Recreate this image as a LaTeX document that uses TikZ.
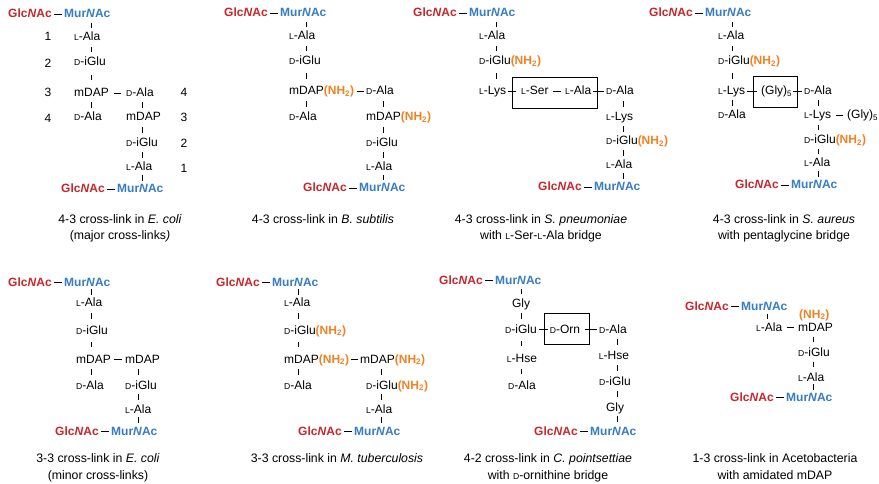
\documentclass[tikz,border=0pt]{standalone}
\usepackage{fontspec}
\setmainfont{Liberation Sans}
\usetikzlibrary{calc}
\definecolor{glcred}{RGB}{200,40,45}
\definecolor{murblue}{RGB}{55,125,195}
\definecolor{nhorange}{RGB}{240,130,35}
\newcommand\SC[1]{{\fontsize{8.6}{10}\selectfont #1}}
\newcommand\NH{{\color{nhorange}\bfseries(NH\textsubscript{2})}}
\newcommand\Glc{\textcolor{glcred}{\bfseries Glc\textit{N}Ac}}
\newcommand\Mur{\textcolor{murblue}{\bfseries Mur\textit{N}Ac}}
\newcommand\tk[3]{\draw[tickline] ($(#1.base -| #3)!0.5!(#2.base -| #3)$) ++(0,-6.6) -- ++(0,5.2);}
\newcommand\hd[2]{\draw[bond] ($(#1.base east)!0.5!(#2.base west)$) ++(-3.6,-3.4) -- ++(7.2,0);}
\newcommand\cin[2]{\draw[bond] ($(#1.base east)+(1,-3.6)$) -- ($(#1.base east -| #2.west)+(4.5,-3.6)$);}
\newcommand\cout[2]{\draw[bond] ($(#2.base west -| #1.east)+(-4.5,-3.6)$) -- ($(#2.base west)+(-1,-3.6)$);}
\begin{document}
\begin{tikzpicture}[x=1pt,y=-1pt,font=\fontsize{12}{14}\selectfont,
  res/.style={anchor=base west,inner sep=1pt},
  resc/.style={anchor=base,inner sep=1pt},
  num/.style={anchor=base,inner sep=1pt},
  captext/.style={anchor=base,inner sep=0pt,font=\fontsize{12.3}{14}\selectfont},
  tickline/.style={line width=0.8pt},
  bond/.style={line width=0.9pt},
  bridge/.style={draw,line width=0.9pt,minimum height=31pt,inner sep=0pt}]
\useasboundingbox (0,0) rectangle (879,484);
\fill[white] (0,0) rectangle (879,484);

% ---------------- Panel 1 ----------------
\coordinate (c1l) at (91,0); \coordinate (c1r) at (142,0);
\node[res] (glc1) at (7,18) {\Glc};
\node[res] (mur1) at (63,18) {\Mur};
\node[res] (ala1) at (73,41) {\SC{L}-Ala};
\node[res] (glu1) at (73,66) {\SC{D}-iGlu};
\node[res] (dap1) at (73,97) {mDAP};
\node[res] (dal1) at (73,121) {\SC{D}-Ala};
\node[res] (dalr1) at (125,97) {\SC{D}-Ala};
\node[res] (dapr1) at (125,121) {mDAP};
\node[res] (glur1) at (125,147) {\SC{D}-iGlu};
\node[res] (alar1) at (125,171) {\SC{L}-Ala};
\node[res] (glcb1) at (60,193) {\Glc};
\node[res] (murb1) at (116,193) {\Mur};
\node[num] (n1a) at (48,41) {1};
\node[num] (n1b) at (48,68) {2};
\node[num] (n1c) at (48,97) {3};
\node[num] (n1d) at (48,123) {4};
\node[num] (n1e) at (184,97) {4};
\node[num] (n1f) at (184,122) {3};
\node[num] (n1g) at (184,148) {2};
\node[num] (n1h) at (184,173) {1};
\hd{glc1}{mur1} \hd{glcb1}{murb1} \hd{dap1}{dalr1}
\tk{mur1}{ala1}{c1l} \tk{ala1}{glu1}{c1l} \tk{glu1}{dap1}{c1l} \tk{dap1}{dal1}{c1l}
\tk{dalr1}{dapr1}{c1r} \tk{dapr1}{glur1}{c1r} \tk{glur1}{alar1}{c1r} \tk{alar1}{murb1}{c1r}

% ---------------- Panel 2 ----------------
\coordinate (c2l) at (306,0); \coordinate (c2r) at (383,0);
\node[res] (glc2) at (223,17) {\Glc};
\node[res] (mur2) at (279,17) {\Mur};
\node[res] (ala2) at (288,40) {\SC{L}-Ala};
\node[res] (glu2) at (288,65) {\SC{D}-iGlu};
\node[res] (dap2) at (288,95) {mDAP\NH};
\node[res] (dal2) at (288,121) {\SC{D}-Ala};
\node[res] (dalr2) at (365,95) {\SC{D}-Ala};
\node[res] (dapr2) at (365,121) {mDAP\NH};
\node[res] (glur2) at (365,147) {\SC{D}-iGlu};
\node[res] (alar2) at (365,171) {\SC{L}-Ala};
\node[res] (glcb2) at (302,192) {\Glc};
\node[res] (murb2) at (358,192) {\Mur};
\hd{glc2}{mur2} \hd{glcb2}{murb2} \hd{dap2}{dalr2}
\tk{mur2}{ala2}{c2l} \tk{ala2}{glu2}{c2l} \tk{glu2}{dap2}{c2l} \tk{dap2}{dal2}{c2l}
\tk{dalr2}{dapr2}{c2r} \tk{dapr2}{glur2}{c2r} \tk{glur2}{alar2}{c2r} \tk{alar2}{murb2}{c2r}

% ---------------- Panel 3 ----------------
\coordinate (c3l) at (496,0); \coordinate (c3r) at (623,0);
\node[res] (glc3) at (412,17) {\Glc};
\node[res] (mur3) at (468,17) {\Mur};
\node[res] (ala3) at (478,40) {\SC{L}-Ala};
\node[res] (glu3) at (478,65) {\SC{D}-iGlu\NH};
\node[res] (lys3) at (478,95) {\SC{L}-Lys};
\node[bridge,minimum width=85pt] (bx3) at (554.5,92.5) {};
\node[res] (ser3) at (520,95) {\SC{L}-Ser};
\node[res] (alab3) at (564,95) {\SC{L}-Ala};
\node[res] (dalr3) at (605,95) {\SC{D}-Ala};
\node[res] (lysr3) at (605,121) {\SC{L}-Lys};
\node[res] (glur3) at (605,145) {\SC{D}-iGlu\NH};
\node[res] (alar3) at (605,169) {\SC{L}-Ala};
\node[res] (glcb3) at (537,191) {\Glc};
\node[res] (murb3) at (593,191) {\Mur};
\hd{glc3}{mur3} \hd{glcb3}{murb3} \hd{ser3}{alab3}
\cin{lys3}{bx3} \cout{bx3}{dalr3}
\tk{mur3}{ala3}{c3l} \tk{ala3}{glu3}{c3l} \tk{glu3}{lys3}{c3l}
\tk{dalr3}{lysr3}{c3r} \tk{lysr3}{glur3}{c3r} \tk{glur3}{alar3}{c3r} \tk{alar3}{murb3}{c3r}

% ---------------- Panel 4 ----------------
\coordinate (c4l) at (732,0); \coordinate (c4r) at (818,0);
\node[res] (glc4) at (648,17) {\Glc};
\node[res] (mur4) at (704,17) {\Mur};
\node[res] (ala4) at (717,40) {\SC{L}-Ala};
\node[res] (glu4) at (717,65) {\SC{D}-iGlu\NH};
\node[res] (lys4) at (717,95) {\SC{L}-Lys};
\node[res] (dal4) at (717,119) {\SC{D}-Ala};
\node[bridge,minimum width=44pt] (bx4) at (775,91.5) {};
\node[res] (gly4) at (760,95) {(Gly)\textsubscript{5}};
\node[res] (dalr4) at (803,95) {\SC{D}-Ala};
\node[res] (lysr4) at (803,119) {\SC{L}-Lys};
\node[res] (glyr4) at (846,119) {(Gly)\textsubscript{5}};
\node[res] (glur4) at (803,144) {\SC{D}-iGlu\NH};
\node[res] (alar4) at (803,167) {\SC{L}-Ala};
\node[res] (glcb4) at (734,189) {\Glc};
\node[res] (murb4) at (790,189) {\Mur};
\hd{glc4}{mur4} \hd{glcb4}{murb4} \hd{lysr4}{glyr4}
\cin{lys4}{bx4} \cout{bx4}{dalr4}
\tk{mur4}{ala4}{c4l} \tk{ala4}{glu4}{c4l} \tk{glu4}{lys4}{c4l} \tk{lys4}{dal4}{c4l}
\tk{dalr4}{lysr4}{c4r} \tk{lysr4}{glur4}{c4r} \tk{glur4}{alar4}{c4r} \tk{alar4}{murb4}{c4r}

% ---------------- Panel 5 ----------------
\coordinate (c5l) at (91,0); \coordinate (c5r) at (138,0);
\node[res] (glc5) at (7,286) {\Glc};
\node[res] (mur5) at (63,286) {\Mur};
\node[res] (ala5) at (75,306) {\SC{L}-Ala};
\node[res] (glu5) at (75,334) {\SC{D}-iGlu};
\node[res] (dap5) at (75,363) {mDAP};
\node[res] (dal5) at (75,389) {\SC{D}-Ala};
\node[res] (dapr5) at (124,363) {mDAP};
\node[res] (glur5) at (124,389) {\SC{D}-iGlu};
\node[res] (alar5) at (124,413) {\SC{L}-Ala};
\node[res] (glcb5) at (54,435) {\Glc};
\node[res] (murb5) at (110,435) {\Mur};
\hd{glc5}{mur5} \hd{glcb5}{murb5} \hd{dap5}{dapr5}
\tk{mur5}{ala5}{c5l} \tk{ala5}{glu5}{c5l} \tk{glu5}{dap5}{c5l} \tk{dap5}{dal5}{c5l}
\tk{dapr5}{glur5}{c5r} \tk{glur5}{alar5}{c5r} \tk{alar5}{murb5}{c5r}

% ---------------- Panel 6 ----------------
\coordinate (c6l) at (298,0); \coordinate (c6r) at (381,0);
\node[res] (glc6) at (215,286) {\Glc};
\node[res] (mur6) at (271,286) {\Mur};
\node[res] (ala6) at (283,306) {\SC{L}-Ala};
\node[res] (glu6) at (283,334) {\SC{D}-iGlu\NH};
\node[res] (dap6) at (283,363) {mDAP\NH};
\node[res] (dal6) at (283,389) {\SC{D}-Ala};
\node[res] (dapr6) at (359,363) {mDAP\NH};
\node[res] (glur6) at (365,389) {\SC{D}-iGlu\NH};
\node[res] (alar6) at (365,413) {\SC{L}-Ala};
\node[res] (glcb6) at (297,435) {\Glc};
\node[res] (murb6) at (353,435) {\Mur};
\hd{glc6}{mur6} \hd{glcb6}{murb6} \hd{dap6}{dapr6}
\tk{mur6}{ala6}{c6l} \tk{ala6}{glu6}{c6l} \tk{glu6}{dap6}{c6l} \tk{dap6}{dal6}{c6l}
\tk{dapr6}{glur6}{c6r} \tk{glur6}{alar6}{c6r} \tk{alar6}{murb6}{c6r}

% ---------------- Panel 7 ----------------
\coordinate (c7l) at (521,0); \coordinate (c7r) at (617,0);
\node[res] (glc7) at (438,284) {\Glc};
\node[res] (mur7) at (494,284) {\Mur};
\node[resc] (gly7) at (521,307) {Gly};
\node[resc] (glu7) at (521,333) {\SC{D}-iGlu};
\node[resc] (hse7) at (522,362) {\SC{L}-Hse};
\node[resc] (dal7) at (522,389) {\SC{D}-Ala};
\node[bridge,minimum width=45pt] (bx7) at (566.5,328.5) {};
\node[resc] (orn7) at (565,333) {\SC{D}-Orn};
\node[resc] (dalr7) at (613,333) {\SC{D}-Ala};
\node[resc] (hser7) at (614,359) {\SC{L}-Hse};
\node[resc] (glur7) at (615,385) {\SC{D}-iGlu};
\node[resc] (glyr7) at (615,411) {Gly};
\node[res] (glcb7) at (533,435) {\Glc};
\node[res] (murb7) at (589,435) {\Mur};
\hd{glc7}{mur7} \hd{glcb7}{murb7}
\cin{glu7}{bx7} \cout{bx7}{dalr7}
\tk{mur7}{gly7}{c7l} \tk{gly7}{glu7}{c7l} \tk{glu7}{hse7}{c7l} \tk{hse7}{dal7}{c7l}
\tk{dalr7}{hser7}{c7r} \tk{hser7}{glur7}{c7r} \tk{glur7}{glyr7}{c7r} \tk{glyr7}{murb7}{c7r}

% ---------------- Panel 8 ----------------
\coordinate (c8a) at (767,0); \coordinate (c8r) at (813,0);
\node[res] (glc8) at (684,310) {\Glc};
\node[res] (mur8) at (740,310) {\Mur};
\node[res] (ala8) at (755,331) {\SC{L}-Ala};
\node[res] (dap8) at (797,331) {mDAP};
\node[res] (nh8) at (798,318) {\NH};
\node[res] (glu8) at (797,356) {\SC{D}-iGlu};
\node[res] (alar8) at (797,381) {\SC{L}-Ala};
\node[res] (glcb8) at (729,401) {\Glc};
\node[res] (murb8) at (785,401) {\Mur};
\hd{glc8}{mur8} \hd{glcb8}{murb8} \hd{ala8}{dap8}
\tk{mur8}{ala8}{c8a}
\tk{dap8}{glu8}{c8r} \tk{glu8}{alar8}{c8r} \tk{alar8}{murb8}{c8r}

% ---------------- Captions ----------------
\node[captext] (capa1) at (120,223) {4-3 cross-link in \textit{E. coli}};
\node[captext] (capa2) at (120,240) {(major cross-links\textit{)}};
\node[captext] (capb1) at (323,223) {4-3 cross-link in \textit{B. subtilis}};
\node[captext] (capc1) at (541,223) {4-3 cross-link in \textit{S. pneumoniae}};
\node[captext] (capc2) at (541,240) {with \SC{L}-Ser-\SC{L}-Ala bridge};
\node[captext] (capd1) at (784,223) {4-3 cross-link in \textit{S. aureus}};
\node[captext] (capd2) at (784,240) {with pentaglycine bridge};
\node[captext] (cape1) at (98,462) {3-3 cross-link in \textit{E. coli}};
\node[captext] (cape2) at (98,479) {(minor cross-links)};
\node[captext] (capf1) at (337,462) {3-3 cross-link in \textit{M. tuberculosis}};
\node[captext] (capg1) at (548,462) {4-2 cross-link in \textit{C. pointsettiae}};
\node[captext] (capg2) at (548,479) {with \SC{D}-ornithine bridge};
\node[captext] (caph1) at (775,462) {1-3 cross-link in Acetobacteria};
\node[captext] (caph2) at (775,479) {with amidated mDAP};
\end{tikzpicture}
\end{document}
